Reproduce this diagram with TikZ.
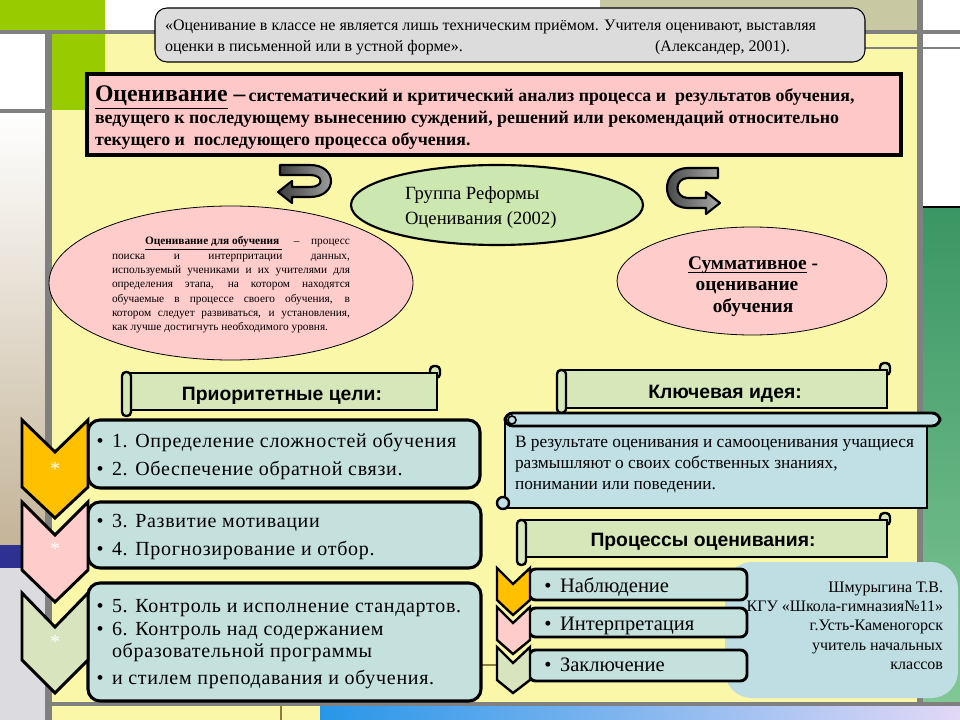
\documentclass[tikz,border=0pt]{standalone}
\usepackage{fontspec}
\setmainfont{Liberation Serif}
\setsansfont{Liberation Sans}
\newfontfamily\spacedserif[LetterSpace=3.5]{Liberation Serif}
\usetikzlibrary{shapes.geometric}
\definecolor{limeg}{RGB}{153,204,0}
\definecolor{khakic}{RGB}{200,200,162}
\definecolor{pale}{RGB}{250,247,168}
\definecolor{tanc}{RGB}{196,180,152}
\definecolor{navyc}{RGB}{46,49,146}
\definecolor{lgrayc}{RGB}{220,220,224}
\definecolor{blueL}{RGB}{40,150,232}
\definecolor{lavc}{RGB}{226,216,246}
\definecolor{greenT}{RGB}{58,150,100}
\definecolor{greenB}{RGB}{130,200,150}
\definecolor{gbar}{RGB}{128,128,128}
\definecolor{quoteg}{RGB}{220,220,220}
\definecolor{defpink}{RGB}{255,200,200}
\definecolor{elpink}{RGB}{255,204,204}
\definecolor{elgreen}{RGB}{204,232,176}
\definecolor{bangreen}{RGB}{214,232,186}
\definecolor{boxblue}{RGB}{197,225,222}
\definecolor{keyblue}{RGB}{192,224,230}
\definecolor{authblue}{RGB}{190,222,228}
\definecolor{chorange}{RGB}{255,192,0}
\definecolor{chpink}{RGB}{255,204,204}
\definecolor{chgreen}{RGB}{215,228,189}
\definecolor{arrdark}{RGB}{60,60,60}
\definecolor{arrlight}{RGB}{170,170,170}
\definecolor{olivec}{RGB}{140,125,60}
\newcommand\myq{\fontsize{12}{14}\selectfont}
\newcommand\myd{\fontsize{13.4}{16}\bfseries\selectfont}
\newcommand\myt{\fontsize{17.8}{18}\bfseries\selectfont}
\newcommand\myg{\fontsize{14}{16}\selectfont}
\newcommand\mys{\fontsize{8.5}{10.7}\selectfont}
\newcommand\myr{\fontsize{14.5}{15.75}\bfseries\selectfont}
\newcommand\myb{\fontsize{14.5}{16}\sffamily\bfseries\selectfont}
\newcommand\myk{\fontsize{13}{15.75}\selectfont}
\newcommand\myi{\fontsize{15}{17}\spacedserif\selectfont}
\newcommand\mydot{\fontsize{15}{17}\selectfont}
\newcommand\mye{\fontsize{15.4}{17}\selectfont}
\newcommand\mya{\fontsize{12}{14.4}\selectfont}
\tikzset{
  T/.style={anchor=base west, inner sep=0pt, outer sep=0pt},
  TR/.style={anchor=base east, inner sep=0pt, outer sep=0pt},
  TC/.style={anchor=base, inner sep=0pt, outer sep=0pt},
  chev/.style={draw=black, line width=2.2pt, line join=miter},
  schev/.style={draw=black, line width=1.8pt, line join=miter},
  bigbox/.style={draw=black, fill=boxblue, line width=2.3pt, rounded corners=9pt},
  smallbox/.style={draw=black, fill=boxblue, line width=2.2pt, rounded corners=5pt},
  banner/.style={draw=black, fill=bangreen, line width=2.2pt},
  bannerend/.style={draw=black, fill=bangreen, line width=1.8pt, rounded corners=3pt},
  curvarrow/.style={draw=black, left color=arrdark, right color=arrlight, line width=1.6pt, line join=round},
  dot/.style={TC, font=\mydot},
}
\begin{document}
\begin{tikzpicture}[x=0.75pt,y=-0.75pt]
\useasboundingbox (0,0) rectangle (960,720);
% ---------- background ----------
\fill[white] (0,0) rectangle (960,720);
\fill[limeg] (0,0) rectangle (105,30);
\fill[khakic] (600,0) rectangle (917,30);
\fill[pale] (52,33) rectangle (917,703);
\fill[limeg] (52,33) rectangle (105,110);
\shade[top color=white, bottom color=tanc] (0,113) rectangle (45,545);
\fill[navyc] (0,545) rectangle (45,568);
\fill[lgrayc] (0,568) rectangle (45,720);
\fill[pale] (52,706) rectangle (320,720);
\shade[left color=blueL, right color=lavc] (320,706) rectangle (960,720);
\shade[top color=greenT, bottom color=greenB] (923,208) rectangle (960,703);
\fill[gbar] (0,30) rectangle (960,34);
\fill[gbar] (45,30) rectangle (52,720);
\fill[gbar] (917,0) rectangle (923,706);
\fill[gbar] (0,109) rectangle (45,113);
\fill[gbar] (52,702) rectangle (960,706);
\draw[gbar, line width=1.4pt] (865,48) -- (960,48);
\draw[black, line width=1.6pt] (923,207) -- (960,207);
\draw[olivec, line width=0.8pt] (281,706) -- (281,720);
\draw[olivec, line width=0.8pt] (470,665) -- (500,665);
% ---------- quote ----------
\draw[fill=quoteg, rounded corners=9pt, line width=0.8pt] (155,8) rectangle (865,62);
\node[T, font=\myq] (q1) at (165,31) {«Оценивание в классе не является лишь техническим приёмом. Учителя оценивают, выставляя};
\node[T, font=\myq] (q2) at (165,52) {оценки в письменной или в устной форме».};
\node[TR, font=\myq] (q3) at (790,52) {(Александер, 2001).};
% ---------- definition ----------
\draw[fill=defpink, line width=3pt] (87,74) rectangle (901,155);
\node[T] (d1) at (95,102) {{\myt\underline{Оценивание} –} {\myd систематический и критический анализ процесса и\ \ результатов обучения,}};
\node[T, font=\myd] (d2) at (95,124) {ведущего к последующему вынесению суждений, решений или рекомендаций относительно};
\node[T, font=\myd] (d3) at (95,146) {текущего и\ \ последующего процесса обучения.};
% ---------- curved arrows ----------
\draw[curvarrow] (280,165) -- (310,165) .. controls (338,165) and (338,197) .. (310,197) -- (292,197) -- (292,203) -- (278,192) -- (292,181) -- (292,187) -- (310,187) .. controls (324,187) and (324,175) .. (310,175) -- (280,175) -- cycle;
\draw[curvarrow] (718,168) -- (688,168) .. controls (660,168) and (660,208) .. (688,208) -- (706,208) -- (706,214) -- (720,203) -- (706,192) -- (706,198) -- (688,198) .. controls (674,198) and (674,178) .. (688,178) -- (718,178) -- cycle;
% ---------- ellipses ----------
\draw[fill=elgreen, line width=1.6pt] (497,205) ellipse [x radius=146, y radius=40];
\node[T, font=\myg] (g1) at (405,200) {Группа Реформы};
\node[T, font=\myg] (g2) at (405,225) {Оценивания (2002)};
\draw[fill=elpink, line width=0.6pt] (231,283) ellipse [x radius=182, y radius=77];
\node[T, text width=178.5pt, align=justify, font=\mys] (s1) at (112,245) {\hspace*{24.75pt}\underline{\textbf{Оценивание для обучения}\ } – процесс\linebreak поиска и интерпритации данных,\linebreak используемый учениками и их учителями для\linebreak определения этапа, на котором находятся\linebreak обучаемые в процессе своего обучения, в\linebreak котором следует развиваться, и установления,\linebreak как лучше достигнуть необходимого уровня.};
\draw[fill=elpink, line width=0.6pt] (752,281) ellipse [x radius=135, y radius=54];
\node[T, font=\myr] (r1) at (688,270) {Суммативное};
\node[T, font=\myr] (r1b) at (r1.base east) {\ -};
\draw[line width=0.8pt] ([yshift=-2.2pt]r1.base west) -- ([yshift=-2.2pt]r1.base east);
\node[TC, font=\myr] (r2) at (747,291) {оценивание};
\node[TC, font=\myr] (r3) at (753,312) {обучения};
% ---------- banners ----------
\draw[bannerend] (430,366) rectangle (440,378);
\draw[banner] (128,373) rectangle (437,410);
\draw[bannerend] (122,372) rectangle (131,416);
\node[TC, font=\myb] (b1) at (282,400) {Приоритетные цели:};
\draw[bannerend] (880,363) rectangle (890,375);
\draw[banner] (563,370) rectangle (887,408);
\draw[bannerend] (557,370) rectangle (566,413);
\node[TC, font=\myb] (b2) at (725,398) {Ключевая идея:};
% key idea scroll
\draw[draw=black, fill=keyblue, line width=2.2pt] (505,420) rectangle (927,508);
\draw[draw=black, fill=keyblue, line width=2.2pt, rounded corners=6pt] (505,413) rectangle (940,426);
\draw[draw=black, fill=keyblue, line width=1.2pt] (512,420) circle [radius=4];
\draw[draw=black, fill=keyblue, line width=1.8pt] (503,503) circle [radius=6];
\node[T, font=\myk] (k1) at (515,447) {В результате оценивания и самооценивания учащиеся};
\node[T, font=\myk] (k2) at (515,468) {размышляют о своих собственных знаниях,};
\node[T, font=\myk] (k3) at (515,489) {понимании или поведении.};
\draw[bannerend] (880,513) rectangle (890,525);
\draw[banner] (523,520) rectangle (887,557);
\draw[bannerend] (517,520) rectangle (526,565);
\node[TC, font=\myb] (b3) at (703,546) {Процессы оценивания:};
% ---------- big boxes ----------
\draw[bigbox] (88,420) rectangle (480,488);
\draw[bigbox] (88,502) rectangle (481,568);
\draw[bigbox] (88,583) rectangle (481,701);
\draw[chev, fill=chorange] (22,420) -- (55,452) -- (88,420) -- (88,487) -- (55,518) -- (22,487) -- cycle;
\draw[chev, fill=chpink] (22,502) -- (55,535) -- (88,502) -- (88,570) -- (55,602) -- (22,570) -- cycle;
\draw[chev, fill=chgreen] (22,593) -- (55,627) -- (88,593) -- (88,660) -- (55,693) -- (22,660) -- cycle;
\node[TC, white, font=\mydot] (a1) at (55,475) {*};
\node[TC, white, font=\mydot] (a2) at (55,555) {*};
\node[TC, white, font=\mydot] (a3) at (55,648) {*};
\node[dot] (p1) at (100,447) {•};
\node[T, font=\myi] (i1) at (112,447) {1. Определение сложностей обучения};
\node[dot] (p2) at (100,475) {•};
\node[T, font=\myi] (i2) at (112,475) {2. Обеспечение обратной связи.};
\node[dot] (p3) at (100,527) {•};
\node[T, font=\myi] (i3) at (112,527) {3. Развитие мотивации};
\node[dot] (p4) at (100,555) {•};
\node[T, font=\myi] (i4) at (112,555) {4. Прогнозирование и отбор.};
\node[dot] (p5) at (100,612) {•};
\node[T, font=\myi] (i5) at (112,612) {5. Контроль и исполнение стандартов.};
\node[dot] (p6) at (100,635) {•};
\node[T, font=\myi] (i6) at (112,635) {6. Контроль над содержанием};
\node[T, font=\myi] (i7) at (112,657) {образовательной программы};
\node[dot] (p8) at (100,684) {•};
\node[T, font=\myi] (i8) at (112,684) {и стилем преподавания и обучения.};
% ---------- author ----------
\fill[authblue, rounded corners=20pt] (725,562) rectangle (958,698);
\node[TR, font=\mya] (u1) at (943,592) {Шмурыгина Т.В.};
\node[TR, font=\mya] (u2) at (943,611) {КГУ «Школа-гимназия№11»};
\node[TR, font=\mya] (u3) at (943,630) {г.Усть-Каменогорск};
\node[TR, font=\mya] (u4) at (943,650) {учитель начальных};
\node[TR, font=\mya] (u5) at (943,669) {классов};
% ---------- small boxes ----------
\draw[smallbox] (529,569) rectangle (747,600);
\draw[smallbox] (529,608) rectangle (747,637);
\draw[smallbox] (529,650) rectangle (747,681);
\draw[schev, fill=chorange] (497,568) -- (513,584) -- (530,568) -- (530,600) -- (513,615) -- (497,600) -- cycle;
\draw[schev, fill=chpink] (497,607) -- (513,623) -- (530,607) -- (530,640) -- (513,654) -- (497,640) -- cycle;
\draw[schev, fill=chgreen] (497,647) -- (513,663) -- (530,647) -- (530,680) -- (513,693) -- (497,680) -- cycle;
\node[dot, font=\mye] (n0) at (548,592) {•};
\node[T, font=\mye] (n1) at (560,592) {Наблюдение};
\node[dot, font=\mye] (n2) at (548,630) {•};
\node[T, font=\mye] (n3) at (560,630) {Интерпретация};
\node[dot, font=\mye] (n4) at (548,671) {•};
\node[T, font=\mye] (n5) at (560,671) {Заключение};
\end{tikzpicture}
\end{document}
